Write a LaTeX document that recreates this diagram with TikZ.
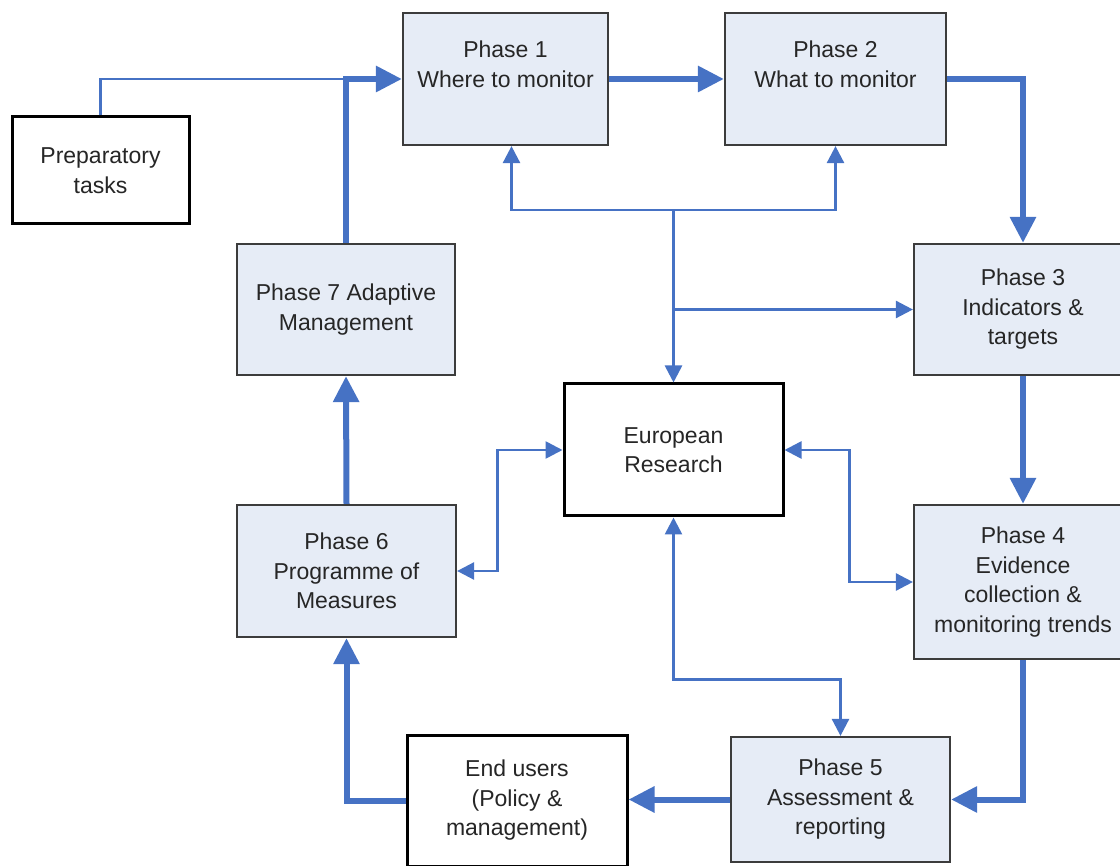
\documentclass[tikz,border=0pt]{standalone}
\usepackage{fontspec}
\setmainfont{Liberation Sans}
\usetikzlibrary{arrows.meta}
\definecolor{flowblue}{RGB}{70,114,196}
\definecolor{phasefill}{RGB}{230,236,246}
\definecolor{boxgray}{RGB}{60,60,60}
\definecolor{textgray}{RGB}{38,38,38}
\begin{document}
\begin{tikzpicture}[x=1pt, y=-1pt,
        font=\fontsize{23}{29.5}\selectfont, text=textgray,
        phasebox/.style={draw=boxgray, line width=2.2pt, fill=phasefill, align=center, inner sep=0pt},
        plainbox/.style={draw=black, line width=3pt, fill=white, align=center, inner sep=0pt},
        mainflow/.style={draw=flowblue, line width=6pt, -{Triangle[length=26pt, width=25pt]}},
        sideflow/.style={draw=flowblue, line width=2.6pt, -{Triangle[length=17pt, width=17pt]}},
        sideboth/.style={sideflow, {Triangle[length=17pt, width=17pt]}-{Triangle[length=17pt, width=17pt]}}]
        \path[use as bounding box, clip] (0, 0) rectangle (1120, 866);

        \node[plainbox, minimum width=177, minimum height=107] (Preparatory) at (100.5, 170.5) {Preparatory\\tasks};
        \node[phasebox, minimum width=205, minimum height=132] (Phase1) at (505.5, 79) {Phase 1\\Where to monitor\\~};
        \node[phasebox, minimum width=221, minimum height=132] (Phase2) at (835.5, 79) {Phase 2\\What to monitor\\~};
        \node[phasebox, minimum width=218, minimum height=131] (Phase3) at (1023, 309.5) {Phase 3\\Indicators \&\\targets};
        \node[phasebox, minimum width=218, minimum height=154] (Phase4) at (1023, 582) {Phase 4\\Evidence\\collection \&\\monitoring trends};
        \node[phasebox, minimum width=219, minimum height=125] (Phase5) at (840.5, 799.5) {Phase 5\\Assessment \&\\reporting};
        \node[plainbox, minimum width=220, minimum height=131] (EndUsers) at (517, 800.5) {End users\\(Policy \&\\management)};
        \node[phasebox, minimum width=219, minimum height=132] (Phase6) at (346.5, 571) {Phase 6\\Programme of\\Measures};
        \node[phasebox, minimum width=218, minimum height=131] (Phase7) at (346, 309.5) {Phase 7 Adaptive\\Management};
        \node[plainbox, minimum width=219, minimum height=132] (EuropeanResearch) at (673.5, 450) {European\\Research};

        \coordinate (ResearchHub) at (673.5, 210);
        \coordinate (ResearchTee) at (EuropeanResearch.north |- Phase3.west);

        \draw[draw=flowblue, line width=2.6pt] (Preparatory.north) |- (Phase7.north |- Phase1.west);
        \draw[mainflow] (Phase7.north) |- (Phase1.west);
        \draw[mainflow] (Phase1.east) -- (Phase2.west);
        \draw[mainflow] (Phase2.east) -| (Phase3.north);
        \draw[mainflow] (Phase3.south) -- (Phase4.north);
        \draw[mainflow] (Phase4.south) |- (Phase5.east);
        \draw[mainflow] (Phase5.west) -- (Phase5.west -| EndUsers.east);
        \draw[mainflow] (EndUsers.west) -| (Phase6.south);
        \draw[mainflow] (Phase6.north) -- (Phase7.south);

        \draw[sideflow] (ResearchHub) -| ([xshift=6pt]Phase1.south);
        \draw[sideflow] (ResearchHub) -| (Phase2.south);
        \draw[sideflow] (ResearchHub) -- (EuropeanResearch.north);
        \draw[sideflow] (ResearchTee) -- (ResearchTee -| Phase3.west);
        \draw[sideboth] (EuropeanResearch.west) -- ++(-65, 0) |- (Phase6.east);
        \draw[sideboth] (EuropeanResearch.east) -- ++(65, 0) |- (Phase4.west);
        \draw[sideboth] (EuropeanResearch.south) -- ++(0, 162) -| (Phase5.north);
\end{tikzpicture}
\end{document}
